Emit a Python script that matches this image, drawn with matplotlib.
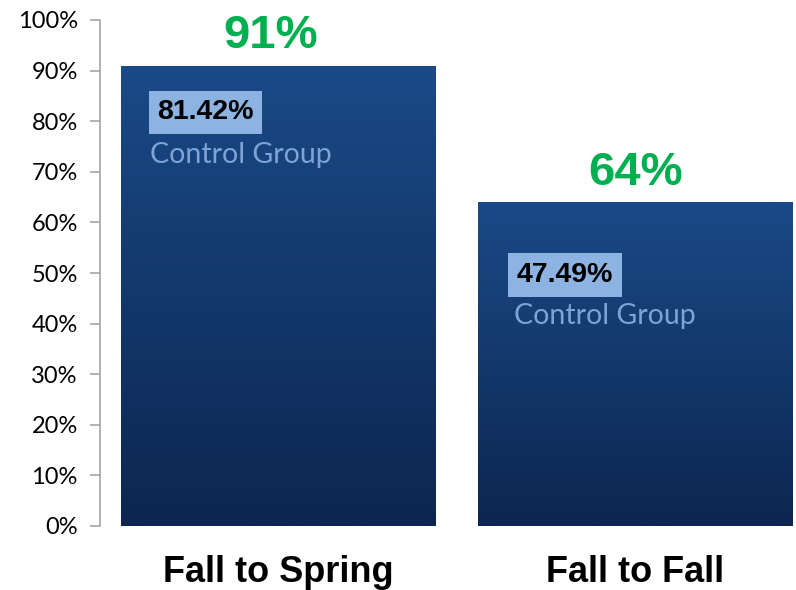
import matplotlib
matplotlib.use("Agg")
import matplotlib.pyplot as plt
import numpy as np
from matplotlib.colors import LinearSegmentedColormap

categories = ["Fall to Spring", "Fall to Fall"]
values = [91, 64]
value_labels = ["91%", "64%"]
control_values = [81.42, 47.49]
control_labels = ["81.42%", "47.49%"]
yticks = list(range(0, 101, 10))
ytick_labels = [f"{t}%" for t in yticks]

# layout (not data)
box_y = [81.8, 49.6]
grp_y = [73.3, 41.5]
box_dx = [0.1, 0.108]
grp_dx = [0.08, 0.10]
top_dx = [-0.022, 0.0]

fig = plt.figure(figsize=(7.96, 5.90), dpi=100)
ax = fig.add_axes([100/796, 64/590, 696/796, 506/590])
ax.set_xlim(-0.5, 1.45)
ax.set_ylim(0, 100)

cmap = LinearSegmentedColormap.from_list("g", ["#0c2650", "#1a4a87"])
width = 0.88
bars = ax.bar(range(len(categories)), values, width=width, color="none", zorder=2)
grad = np.linspace(0, 1, 256).reshape(-1, 1)
for b in bars:
    x0, y0 = b.get_x(), b.get_y()
    w, h = b.get_width(), b.get_height()
    im = ax.imshow(grad, extent=[x0, x0 + w, y0, y0 + h], origin="lower",
                   aspect="auto", cmap=cmap, zorder=1)
    im.set_clip_path(b)

ax.set_xlim(-0.5, 1.45)
ax.set_ylim(0, 100)

for i, (v, lab) in enumerate(zip(values, value_labels)):
    ax.text(i + top_dx[i], v + 1.4, lab, ha="center", va="bottom", color="#00b050",
            fontsize=34, fontweight="bold", family="Liberation Sans")

for i, b in enumerate(bars):
    x0 = b.get_x()
    ax.text(x0 + box_dx[i], box_y[i], control_labels[i], ha="left", va="center",
            fontsize=20.5, fontweight="bold", family="Liberation Sans", color="black",
            bbox=dict(boxstyle="square,pad=0.3", fc="#8db3e2", ec="none"), zorder=4)
    ax.text(x0 + grp_dx[i], grp_y[i], "Control Group", ha="left", va="center",
            fontsize=20.5, color="#7ea3d6", family="Lato", zorder=4)

ax.set_yticks(yticks)
ax.set_yticklabels(ytick_labels, fontsize=17, family="Lato")
ax.set_xticks(range(len(categories)))
ax.set_xticklabels(categories, fontsize=26, fontweight="bold", family="Liberation Sans")
ax.tick_params(axis="x", length=0, pad=21)
ax.tick_params(axis="y", length=7, color="#a6a6a6", width=1.2, pad=9)
for s in ["top", "right", "bottom"]:
    ax.spines[s].set_visible(False)
ax.spines["left"].set_color("#a6a6a6")
ax.spines["left"].set_linewidth(1.2)

fig.savefig("out.png", dpi=100)
